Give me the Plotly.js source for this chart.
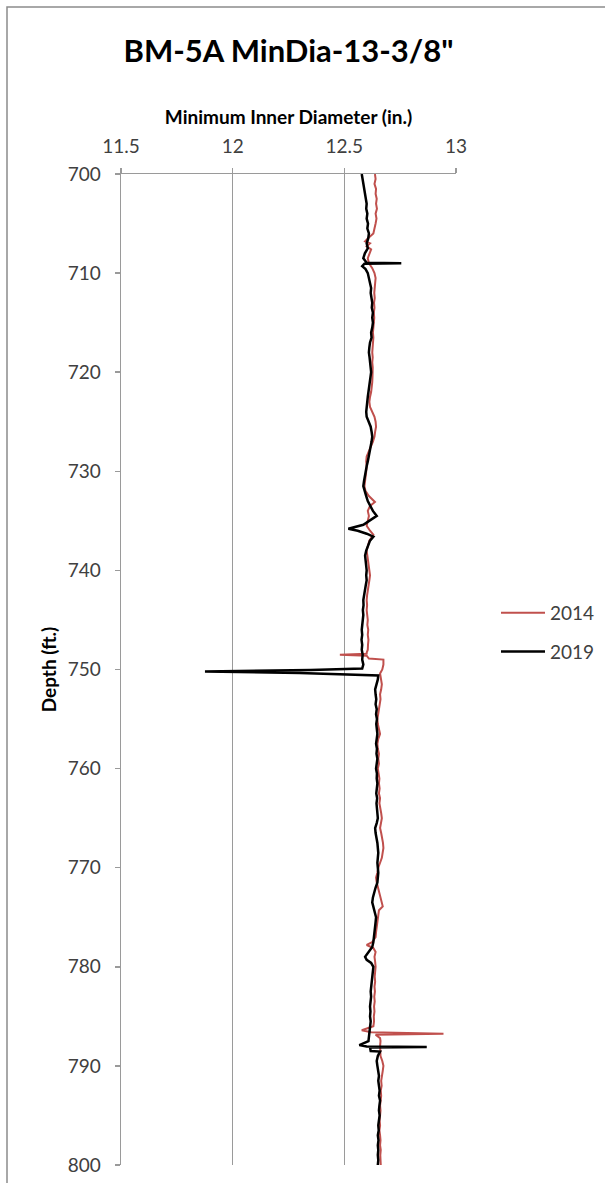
<!DOCTYPE html>
<html>
<head>
<meta charset="utf-8">
<script src="https://cdn.plot.ly/plotly-3.0.1.min.js"></script>
<style>
html,body{margin:0;padding:0;background:#fff;}
#chart{width:605px;height:1183px;}
</style>
</head>
<body>
<div id="chart"></div>
<script>
// 2014 series: depth (ft) and minimum inner diameter (in.)
var depth2014 = [700,700.5,701,701.5,702,702.5,703,703.5,704,704.5,705,705.5,706,706.5,706.8,707,707.3,707.6,708,708.5,709,709.5,
710,710.5,711,711.5,712,712.5,713,713.5,714,714.5,715,715.5,716,716.5,717,717.5,718,718.5,719,719.5,
720,720.5,721,721.5,722,722.5,723,723.5,724,724.5,725,725.5,726,726.5,727,727.5,728,728.5,729,729.5,
730,730.5,731,731.5,732,732.5,733.1,733.5,734,734.5,735,735.5,736,736.4,737,737.5,738,738.5,739,739.5,
740,740.5,741,741.5,742,742.5,743,743.5,744,744.5,745,745.5,746,746.5,747,747.5,748,748.3,748.4,748.5,748.6,748.9,749,749.5,750,750.4,
751,751.5,752,752.5,753,753.5,754,754.5,755,755.5,756,756.5,757,757.5,758,758.5,759,759.5,
760,760.5,761,761.5,762,762.5,763,763.5,764,764.5,765,765.5,766,766.5,767,767.5,768,768.5,769,769.5,
770,770.5,771,771.5,772,772.5,773,773.5,773.9,774.3,775,775.5,776,776.5,777,777.5,777.8,778.1,778.5,779,779.5,
780,780.5,781,781.5,782,782.5,783,783.5,784,784.5,785,785.5,786,786.4,786.6,786.75,786.85,787.2,787.5,788,788.5,789,789.5,
790,790.5,791,791.5,792,792.5,793,793.5,794,794.5,795,795.5,796,796.5,797,797.5,798,798.5,799,799.5,800];
var dia2014 = [12.637,12.640,12.635,12.642,12.640,12.645,12.642,12.646,12.640,12.644,12.640,12.636,12.630,12.605,12.593,12.615,12.600,12.620,12.612,12.605,12.610,12.625,
12.635,12.640,12.638,12.636,12.634,12.636,12.633,12.635,12.632,12.634,12.632,12.630,12.628,12.630,12.628,12.625,12.625,12.627,12.625,12.627,
12.628,12.626,12.625,12.623,12.620,12.615,12.612,12.615,12.625,12.635,12.640,12.642,12.638,12.635,12.628,12.618,12.608,12.600,12.598,12.600,
12.598,12.595,12.592,12.590,12.595,12.610,12.637,12.615,12.605,12.610,12.605,12.600,12.615,12.630,12.612,12.605,12.600,12.603,12.606,12.610,
12.612,12.615,12.612,12.608,12.605,12.602,12.600,12.602,12.600,12.603,12.605,12.603,12.607,12.605,12.608,12.606,12.605,12.600,12.600,12.480,12.600,12.610,12.675,12.675,12.670,12.660,
12.665,12.668,12.665,12.660,12.662,12.658,12.655,12.652,12.648,12.650,12.655,12.660,12.652,12.648,12.650,12.655,12.652,12.655,
12.650,12.653,12.657,12.655,12.658,12.655,12.660,12.657,12.662,12.665,12.668,12.665,12.660,12.665,12.670,12.673,12.675,12.672,12.668,12.660,
12.652,12.648,12.642,12.645,12.650,12.655,12.660,12.665,12.672,12.655,12.650,12.648,12.645,12.642,12.640,12.625,12.600,12.630,12.640,12.635,12.638,
12.640,12.638,12.636,12.638,12.635,12.637,12.634,12.636,12.633,12.635,12.632,12.633,12.630,12.578,12.620,12.944,12.640,12.660,12.662,12.660,12.660,12.662,12.670,
12.675,12.672,12.668,12.665,12.667,12.663,12.665,12.662,12.660,12.662,12.660,12.658,12.660,12.657,12.660,12.662,12.660,12.663,12.661,12.663,12.663];

// 2019 series
var depth2019 = [700,700.5,701,701.5,702,702.5,703,703.5,704,704.5,705,705.5,706,706.5,707,707.5,708,708.5,708.8,708.95,709,709.05,709.3,709.6,
710,710.5,711,711.5,712,712.5,713,713.5,714,714.5,715,715.5,716,716.5,717,717.5,718,718.5,719,719.5,
720,720.5,721,721.5,722,722.5,723,723.5,724,724.5,725,725.5,726,726.5,727,727.5,728,728.5,729,729.5,
730,730.5,731,731.5,732,732.5,733,733.5,734,734.5,735,735.4,735.8,736,736.3,736.6,737,737.5,738,738.5,739,739.5,
740,740.5,741,741.5,742,742.5,743,743.5,744,744.5,745,745.5,746,746.5,747,747.5,748,748.5,749,749.5,749.9,750.05,750.2,750.35,750.5,750.6,
751,751.5,752,752.5,753,753.5,754,754.5,755,755.5,756,756.5,757,757.5,758,758.5,759,759.5,
760,760.5,761,761.5,762,762.5,763,763.5,764,764.5,765,765.5,766,766.5,767,767.5,768,768.5,769,769.5,
770,770.5,771,771.5,772,772.5,773,773.5,774,774.5,775,775.5,776,776.5,777,777.5,778,778.5,779,779.3,779.6,
780,780.5,781,781.5,782,782.5,783,783.5,784,784.5,785,785.5,786,786.5,787,787.5,787.9,788.05,788.1,788.15,788.5,788.55,789,789.5,
790,790.5,791,791.5,792,792.5,793,793.5,794,794.5,795,795.5,796,796.5,797,797.5,798,798.5,799,799.5,800];
var dia2019 = [12.578,12.582,12.585,12.588,12.592,12.595,12.600,12.598,12.603,12.600,12.606,12.603,12.610,12.607,12.600,12.605,12.592,12.585,12.598,12.600,12.755,12.590,12.580,12.595,
12.605,12.610,12.615,12.620,12.618,12.622,12.625,12.623,12.628,12.625,12.628,12.625,12.620,12.622,12.615,12.612,12.610,12.613,12.615,12.618,
12.620,12.617,12.615,12.610,12.608,12.605,12.602,12.600,12.598,12.600,12.608,12.618,12.622,12.625,12.622,12.618,12.615,12.612,12.605,12.600,
12.595,12.590,12.588,12.585,12.590,12.598,12.605,12.615,12.628,12.645,12.610,12.585,12.518,12.560,12.600,12.630,12.615,12.605,12.598,12.593,12.596,12.600,
12.600,12.598,12.600,12.596,12.592,12.588,12.585,12.586,12.583,12.585,12.582,12.580,12.578,12.580,12.577,12.580,12.578,12.582,12.580,12.585,12.580,12.350,11.876,12.300,12.600,12.652,
12.650,12.645,12.638,12.640,12.643,12.640,12.645,12.642,12.646,12.643,12.645,12.648,12.645,12.642,12.646,12.644,12.648,12.645,
12.642,12.646,12.645,12.648,12.645,12.643,12.647,12.644,12.646,12.648,12.650,12.645,12.638,12.640,12.645,12.648,12.650,12.652,12.650,12.648,
12.650,12.652,12.650,12.648,12.640,12.633,12.628,12.625,12.630,12.638,12.642,12.640,12.638,12.635,12.632,12.630,12.625,12.610,12.593,12.600,12.620,
12.630,12.628,12.625,12.622,12.620,12.618,12.620,12.617,12.615,12.617,12.615,12.618,12.615,12.612,12.612,12.608,12.567,12.600,12.869,12.615,12.618,12.660,12.650,12.645,
12.648,12.652,12.655,12.652,12.656,12.658,12.655,12.660,12.657,12.655,12.658,12.655,12.652,12.654,12.650,12.653,12.650,12.652,12.650,12.652,12.650];

var xTicks = [11.5, 12, 12.5, 13];
var yTicks = [700, 710, 720, 730, 740, 750, 760, 770, 780, 790, 800];

var FONT = 'Lato, "Open Sans", sans-serif';

var traces = [
  {x: dia2014, y: depth2014, name: '2014', type: 'scatter', mode: 'lines',
   line: {color: '#c0504d', width: 2}, legendgroup: 'a'},
  {x: dia2019, y: depth2019, name: '2019', type: 'scatter', mode: 'lines',
   line: {color: '#000000', width: 2.5}, legendgroup: 'b'}
];

var layout = {
  width: 605, height: 1183,
  margin: {l: 121, r: 149, t: 174, b: 18},
  paper_bgcolor: '#ffffff', plot_bgcolor: '#ffffff',
  font: {family: FONT, color: '#404040', size: 18},
  title: {text: '<b>BM-5A MinDia-13-3/8"</b>', x: 0.5, xref: 'paper', xanchor: 'center',
          y: 1 - 51/1183, yanchor: 'middle', yref: 'container',
          font: {family: FONT, size: 31, color: '#000000'}},
  xaxis: {side: 'top', range: [11.5, 13], tickvals: xTicks, ticktext: xTicks.map(String),
          showgrid: true, gridcolor: '#9a9a9a', gridwidth: 1.5,
          showline: true, linecolor: '#9a9a9a', linewidth: 1.5,
          ticks: 'outside', ticklen: 5, tickcolor: '#9a9a9a', tickwidth: 1.5,
          ticklabelstandoff: 7, automargin: false,
          zeroline: false, tickfont: {size: 19, color: '#404040'},
          title: {text: '<b>Minimum Inner Diameter (in.)</b>', standoff: 4,
                  font: {size: 19, color: '#000000'}}},
  yaxis: {range: [800, 700], tickvals: yTicks, ticktext: yTicks.map(String),
          showgrid: false, showline: true, linecolor: '#9a9a9a', linewidth: 1.5,
          ticks: 'outside', ticklen: 5, tickcolor: '#9a9a9a', tickwidth: 1.5,
          ticklabelstandoff: 10, automargin: false,
          zeroline: false, tickfont: {size: 19, color: '#404040'},
          title: {text: '<b>Depth (ft.)</b>', standoff: 6,
                  font: {size: 19, color: '#000000'}}},
  showlegend: true,
  legend: {xref: 'container', yref: 'container', x: 496 / 605, xanchor: 'left',
           y: 1 - 594 / 1183, yanchor: 'top',
           bgcolor: 'rgba(0,0,0,0)', font: {size: 19, color: '#404040'},
           traceorder: 'grouped', tracegroupgap: 11, itemwidth: 44},
  shapes: [{type: 'rect', xref: 'paper', yref: 'paper',
            x0: (7 - 121) / 335, x1: 2, y0: -1, y1: 1 + (174 - 7) / 991,
            line: {color: '#8c8c8c', width: 1.5}, fillcolor: 'rgba(0,0,0,0)', layer: 'below'}]
};

Plotly.newPlot('chart', traces, layout, {staticPlot: true, displayModeBar: false});
</script>
</body>
</html>
